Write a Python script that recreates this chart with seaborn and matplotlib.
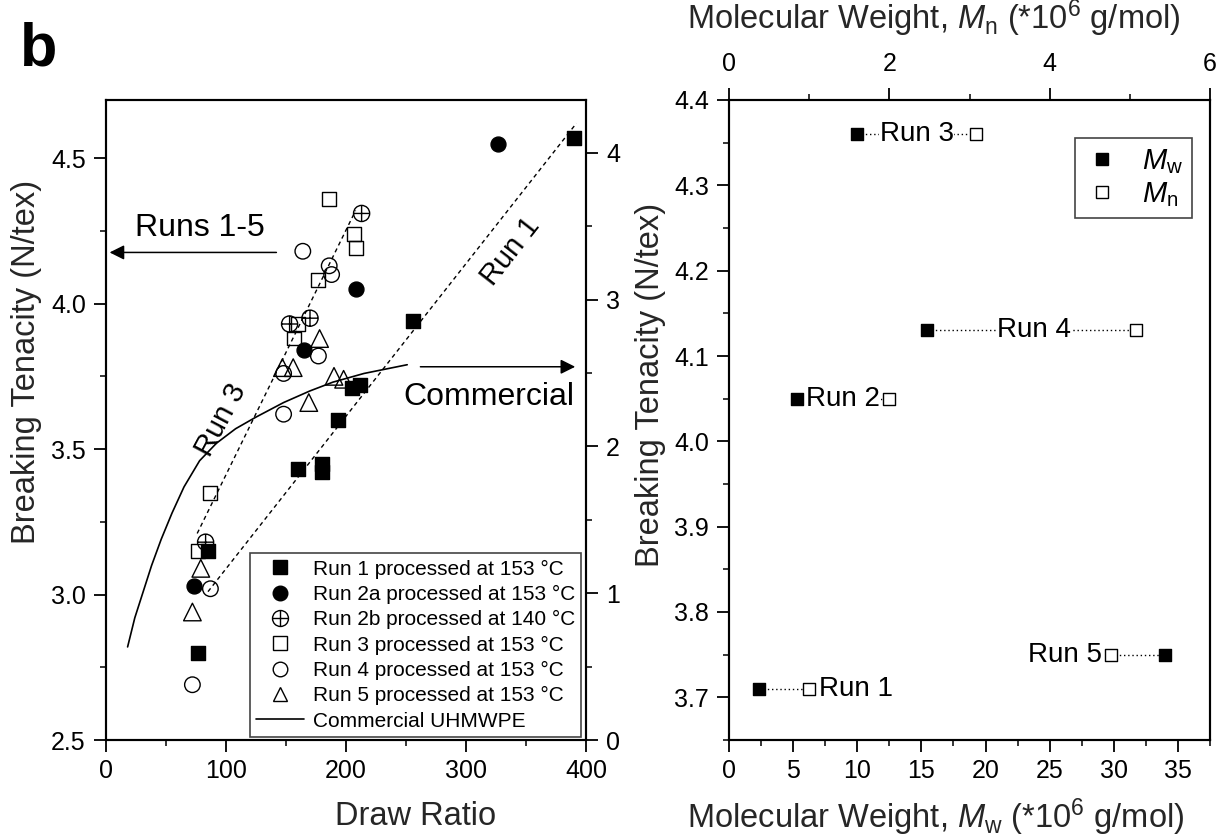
import matplotlib
matplotlib.use("Agg")
import matplotlib.pyplot as plt
from matplotlib.path import Path
from matplotlib.ticker import MultipleLocator, FormatStrFormatter
from matplotlib.lines import Line2D
import seaborn as sns

# ---------------- data: breaking tenacity vs draw ratio ----------------
run1_dr = [77, 85, 160, 180, 180, 193, 205, 212, 256, 390]
run1_bt = [2.80, 3.15, 3.43, 3.45, 3.42, 3.60, 3.71, 3.72, 3.94, 4.57]
run2a_dr = [73, 165, 208, 327]
run2a_bt = [3.03, 3.84, 4.05, 4.55]
run2b_dr = [83, 153, 170, 213]
run2b_bt = [3.18, 3.93, 3.95, 4.31]
run3_dr = [77, 87, 157, 160, 177, 186, 207, 208]
run3_bt = [3.15, 3.35, 3.88, 3.93, 4.08, 4.36, 4.24, 4.19]
run4_dr = [72, 87, 148, 148, 177, 164, 186, 188]
run4_bt = [2.69, 3.02, 3.62, 3.76, 3.82, 4.18, 4.13, 4.10]
run5_dr = [72, 79, 147, 156, 169, 178, 190, 198]
run5_bt = [2.94, 3.09, 3.78, 3.78, 3.66, 3.88, 3.75, 3.74]

# trend lines for runs 1 and 3
run1_trend_dr = [85, 392]
run1_trend_bt = [3.01, 4.62]
run3_trend_dr = [76, 208]
run3_trend_bt = [3.21, 4.32]

# commercial UHMWPE reference curve
commercial_dr = [18, 24, 31, 38, 46, 55, 65, 78, 92, 108, 125, 148, 170, 189, 215, 251]
commercial_bt = [2.82, 2.92, 3.01, 3.10, 3.19, 3.28, 3.37, 3.46, 3.52, 3.57, 3.61,
                 3.66, 3.70, 3.73, 3.76, 3.79]

legend_labels = [
    "Run 1 processed at 153 \u00b0C",
    "Run 2a processed at 153 \u00b0C",
    "Run 2b processed at 140 \u00b0C",
    "Run 3 processed at 153 \u00b0C",
    "Run 4 processed at 153 \u00b0C",
    "Run 5 processed at 153 \u00b0C",
    "Commercial UHMWPE",
]

# ---------------- data: breaking tenacity vs molecular weight ----------------
mw_runs = ["Run 1", "Run 2", "Run 3", "Run 4", "Run 5"]
mw_values = [2.3, 5.3, 10.0, 15.4, 34.0]      # Mw, *10^6 g/mol
mn_values = [1.0, 2.0, 3.08, 5.08, 4.77]      # Mn, *10^6 g/mol
mw_tenacity = [3.71, 4.05, 4.36, 4.13, 3.75]  # N/tex

# ---------------- style ----------------
sns.set_style("ticks")
plt.rcParams.update({
    "font.family": ["Liberation Sans", "DejaVu Sans"],
    "mathtext.fontset": "custom",
    "mathtext.rm": "Liberation Sans",
    "mathtext.it": "Liberation Sans:italic",
    "mathtext.bf": "Liberation Sans:bold",
    "axes.linewidth": 1.5,
    "axes.edgecolor": "black",
    "text.color": "black",
    "xtick.color": "black",
    "ytick.color": "black",
    "xtick.major.width": 1.3,
    "ytick.major.width": 1.3,
    "xtick.minor.width": 1.1,
    "ytick.minor.width": 1.1,
    "xtick.major.size": 8.5,
    "ytick.major.size": 8.5,
    "xtick.minor.size": 4.5,
    "ytick.minor.size": 4.5,
    "xtick.labelsize": 18,
    "ytick.labelsize": 18,
    "xtick.major.pad": 5,
    "ytick.major.pad": 6,
})

LABEL_FS = 23.5
W, H = 1220, 838
fig = plt.figure(figsize=(W / 100, H / 100), dpi=100)


def rect(left, top, right, bottom):
    return [left / W, 1 - bottom / H, (right - left) / W, (bottom - top) / H]


ax1 = fig.add_axes(rect(106, 100, 586, 740))
ax2 = fig.add_axes(rect(729, 100, 1210, 740))

# circle with a cross, used for run 2b
oplus = Path.make_compound_path(
    Path.unit_circle(),
    Path([(-1, 0), (1, 0), (0, -1), (0, 1)],
         [Path.MOVETO, Path.LINETO, Path.MOVETO, Path.LINETO]),
)

series = [
    (run1_dr, run1_bt, "s", "black", 95),
    (run2a_dr, run2a_bt, "o", "black", 115),
    (run2b_dr, run2b_bt, oplus, "none", 135),
    (run3_dr, run3_bt, "s", "none", 100),
    (run4_dr, run4_bt, "o", "none", 125),
    (run5_dr, run5_bt, "^", "none", 160),
]

# ---------------- left panel ----------------
sns.lineplot(x=run1_trend_dr, y=run1_trend_bt, ax=ax1, color="black",
             linestyle=(0, (3, 2.5)), linewidth=1.0, zorder=2)
sns.lineplot(x=run3_trend_dr, y=run3_trend_bt, ax=ax1, color="black",
             linestyle=(0, (3, 2.5)), linewidth=1.0, zorder=2)
sns.lineplot(x=commercial_dr, y=commercial_bt, ax=ax1, color="black",
             linewidth=1.2, sort=False, zorder=2)

handles = []
for (xs, ys, mk, fc, size), lab in zip(series, legend_labels):
    sns.scatterplot(x=xs, y=ys, ax=ax1, marker=mk, s=size, facecolor=fc,
                    edgecolor="black", linewidth=1.0, zorder=3, legend=False)
    handles.append(Line2D([], [], linestyle="none", marker=mk,
                          markersize=10.5 if mk is not oplus else 11.5,
                          markerfacecolor=fc, markeredgecolor="black",
                          markeredgewidth=1.0))
handles.append(Line2D([], [], color="black", linewidth=1.2))

ax1.set_xlim(0, 400)
ax1.set_ylim(2.5, 4.7)
ax1.xaxis.set_major_locator(MultipleLocator(100))
ax1.xaxis.set_minor_locator(MultipleLocator(50))
ax1.yaxis.set_major_locator(MultipleLocator(0.5))
ax1.yaxis.set_minor_locator(MultipleLocator(0.25))
ax1.yaxis.set_major_formatter(FormatStrFormatter("%.1f"))
ax1.tick_params(which="both", direction="out", top=False, right=False)
ax1.set_xlabel("Draw Ratio", fontsize=LABEL_FS)
ax1.set_ylabel("Breaking Tenacity (N/tex)", fontsize=LABEL_FS)
ax1.xaxis.set_label_coords(0.645, -0.095)
ax1.yaxis.set_label_coords(-0.133, 0.59)

ax1r = ax1.twinx()
ax1r.set_ylim(0, 4.36)
ax1r.yaxis.set_major_locator(MultipleLocator(1))
ax1r.yaxis.set_minor_locator(MultipleLocator(0.5))
ax1r.tick_params(which="both", direction="out")
for sp in ax1r.spines.values():
    sp.set_linewidth(1.5)

leg = ax1.legend(handles, legend_labels, loc="lower right",
                 bbox_to_anchor=(0.99, 0.005), borderaxespad=0,
                 fontsize=15, frameon=True, fancybox=False,
                 handlelength=2.3, handletextpad=0.4, labelspacing=0.3,
                 borderpad=0.3, framealpha=1)
leg.get_frame().set_edgecolor("#444444")
leg.get_frame().set_linewidth(1.2)

# annotations
ax1.annotate("", xy=(3, 4.176), xytext=(142, 4.176),
             arrowprops=dict(arrowstyle="-|>", color="black", lw=1.1,
                             mutation_scale=22, shrinkA=0, shrinkB=0))
ax1.text(78, 4.26, "Runs 1-5", fontsize=23, ha="center", va="center")
ax1.annotate("", xy=(391, 3.783), xytext=(262, 3.783),
             arrowprops=dict(arrowstyle="-|>", color="black", lw=1.1,
                             mutation_scale=22, shrinkA=0, shrinkB=0))
ax1.text(319, 3.68, "Commercial", fontsize=23, ha="center", va="center")
ax1.text(96, 3.60, "Run 3", fontsize=21, ha="center", va="center", rotation=62)
ax1.text(337, 4.18, "Run 1", fontsize=21, ha="center", va="center", rotation=52)

# ---------------- right panel ----------------
MW_LIM = (0, 37.5)
MN_LIM = (0, 6)
mn_to_mw = MW_LIM[1] / MN_LIM[1]

for mw, mn, bt in zip(mw_values, mn_values, mw_tenacity):
    sns.lineplot(x=[mw, mn * mn_to_mw], y=[bt, bt], ax=ax2, color="black",
                 linestyle=(0, (1, 2)), linewidth=1.0, zorder=2)

sns.scatterplot(x=mw_values, y=mw_tenacity, ax=ax2, marker="s", s=85,
                facecolor="black", edgecolor="black", linewidth=1.0,
                zorder=4, legend=False)

ax2t = ax2.twiny()
sns.scatterplot(x=mn_values, y=mw_tenacity, ax=ax2t, marker="s", s=85,
                facecolor="white", edgecolor="black", linewidth=1.0,
                zorder=4, legend=False)

# run labels placed relative to the two markers of each run
label_layout = {
    "Run 1": ("after_mn", "left", 0.8),
    "Run 2": ("between", "center", 0.0),
    "Run 3": ("between", "center", 0.0),
    "Run 4": ("between", "center", 0.2),
    "Run 5": ("before_mn", "right", -0.7),
}
for name, mw, mn, bt in zip(mw_runs, mw_values, mn_values, mw_tenacity):
    mode, ha, dx = label_layout[name]
    if mode == "between":
        xpos = 0.5 * (mw + mn * mn_to_mw) + dx
    else:
        xpos = mn * mn_to_mw + dx
    ax2.text(xpos, bt, name, fontsize=20, ha=ha, va="center", zorder=3,
             bbox=dict(facecolor="white", edgecolor="none", pad=0.5))

ax2.set_xlim(*MW_LIM)
ax2.set_ylim(3.65, 4.40)
ax2t.set_xlim(*MN_LIM)
ax2t.set_ylim(3.65, 4.40)
ax2.xaxis.set_major_locator(MultipleLocator(5))
ax2.xaxis.set_minor_locator(MultipleLocator(2.5))
ax2.yaxis.set_major_locator(MultipleLocator(0.1))
ax2.yaxis.set_minor_locator(MultipleLocator(0.05))
ax2.yaxis.set_major_formatter(FormatStrFormatter("%.1f"))
ax2.tick_params(which="both", direction="out", top=False, right=False)
ax2t.xaxis.set_major_locator(MultipleLocator(2))
ax2t.xaxis.set_minor_locator(MultipleLocator(1))
ax2t.tick_params(which="both", direction="out", pad=9)
for sp in ax2t.spines.values():
    sp.set_linewidth(1.5)

ax2.set_xlabel(r"Molecular Weight, $M_\mathrm{w}$ (*10$^\mathrm{6}$ g/mol)",
               fontsize=LABEL_FS)
ax2t.set_xlabel(r"Molecular Weight, $M_\mathrm{n}$ (*10$^\mathrm{6}$ g/mol)",
                fontsize=LABEL_FS)
ax2.set_ylabel("Breaking Tenacity (N/tex)", fontsize=LABEL_FS)
ax2.xaxis.set_label_coords(0.43, -0.088)
ax2t.xaxis.set_label_coords(0.425, 1.11)
ax2.yaxis.set_label_coords(-0.13, 0.555)

mw_handles = [
    Line2D([], [], linestyle="none", marker="s", markersize=9,
           markerfacecolor="black", markeredgecolor="black"),
    Line2D([], [], linestyle="none", marker="s", markersize=9,
           markerfacecolor="white", markeredgecolor="black"),
]
leg2 = ax2t.legend(mw_handles, [r"$M_\mathrm{w}$", r"$M_\mathrm{n}$"],
                   loc="upper right", bbox_to_anchor=(0.963, 0.94),
                   borderaxespad=0, fontsize=21, frameon=True, fancybox=False,
                   handlelength=1.2, handletextpad=0.8, labelspacing=0.15,
                   borderpad=0.3, framealpha=1)
leg2.get_frame().set_edgecolor("#444444")
leg2.get_frame().set_linewidth(1.2)

fig.text(20 / W, 1 - 66 / H, "b", fontsize=44, fontweight="bold",
         ha="left", va="baseline")

fig.savefig("out.png", dpi=100, facecolor="white")
